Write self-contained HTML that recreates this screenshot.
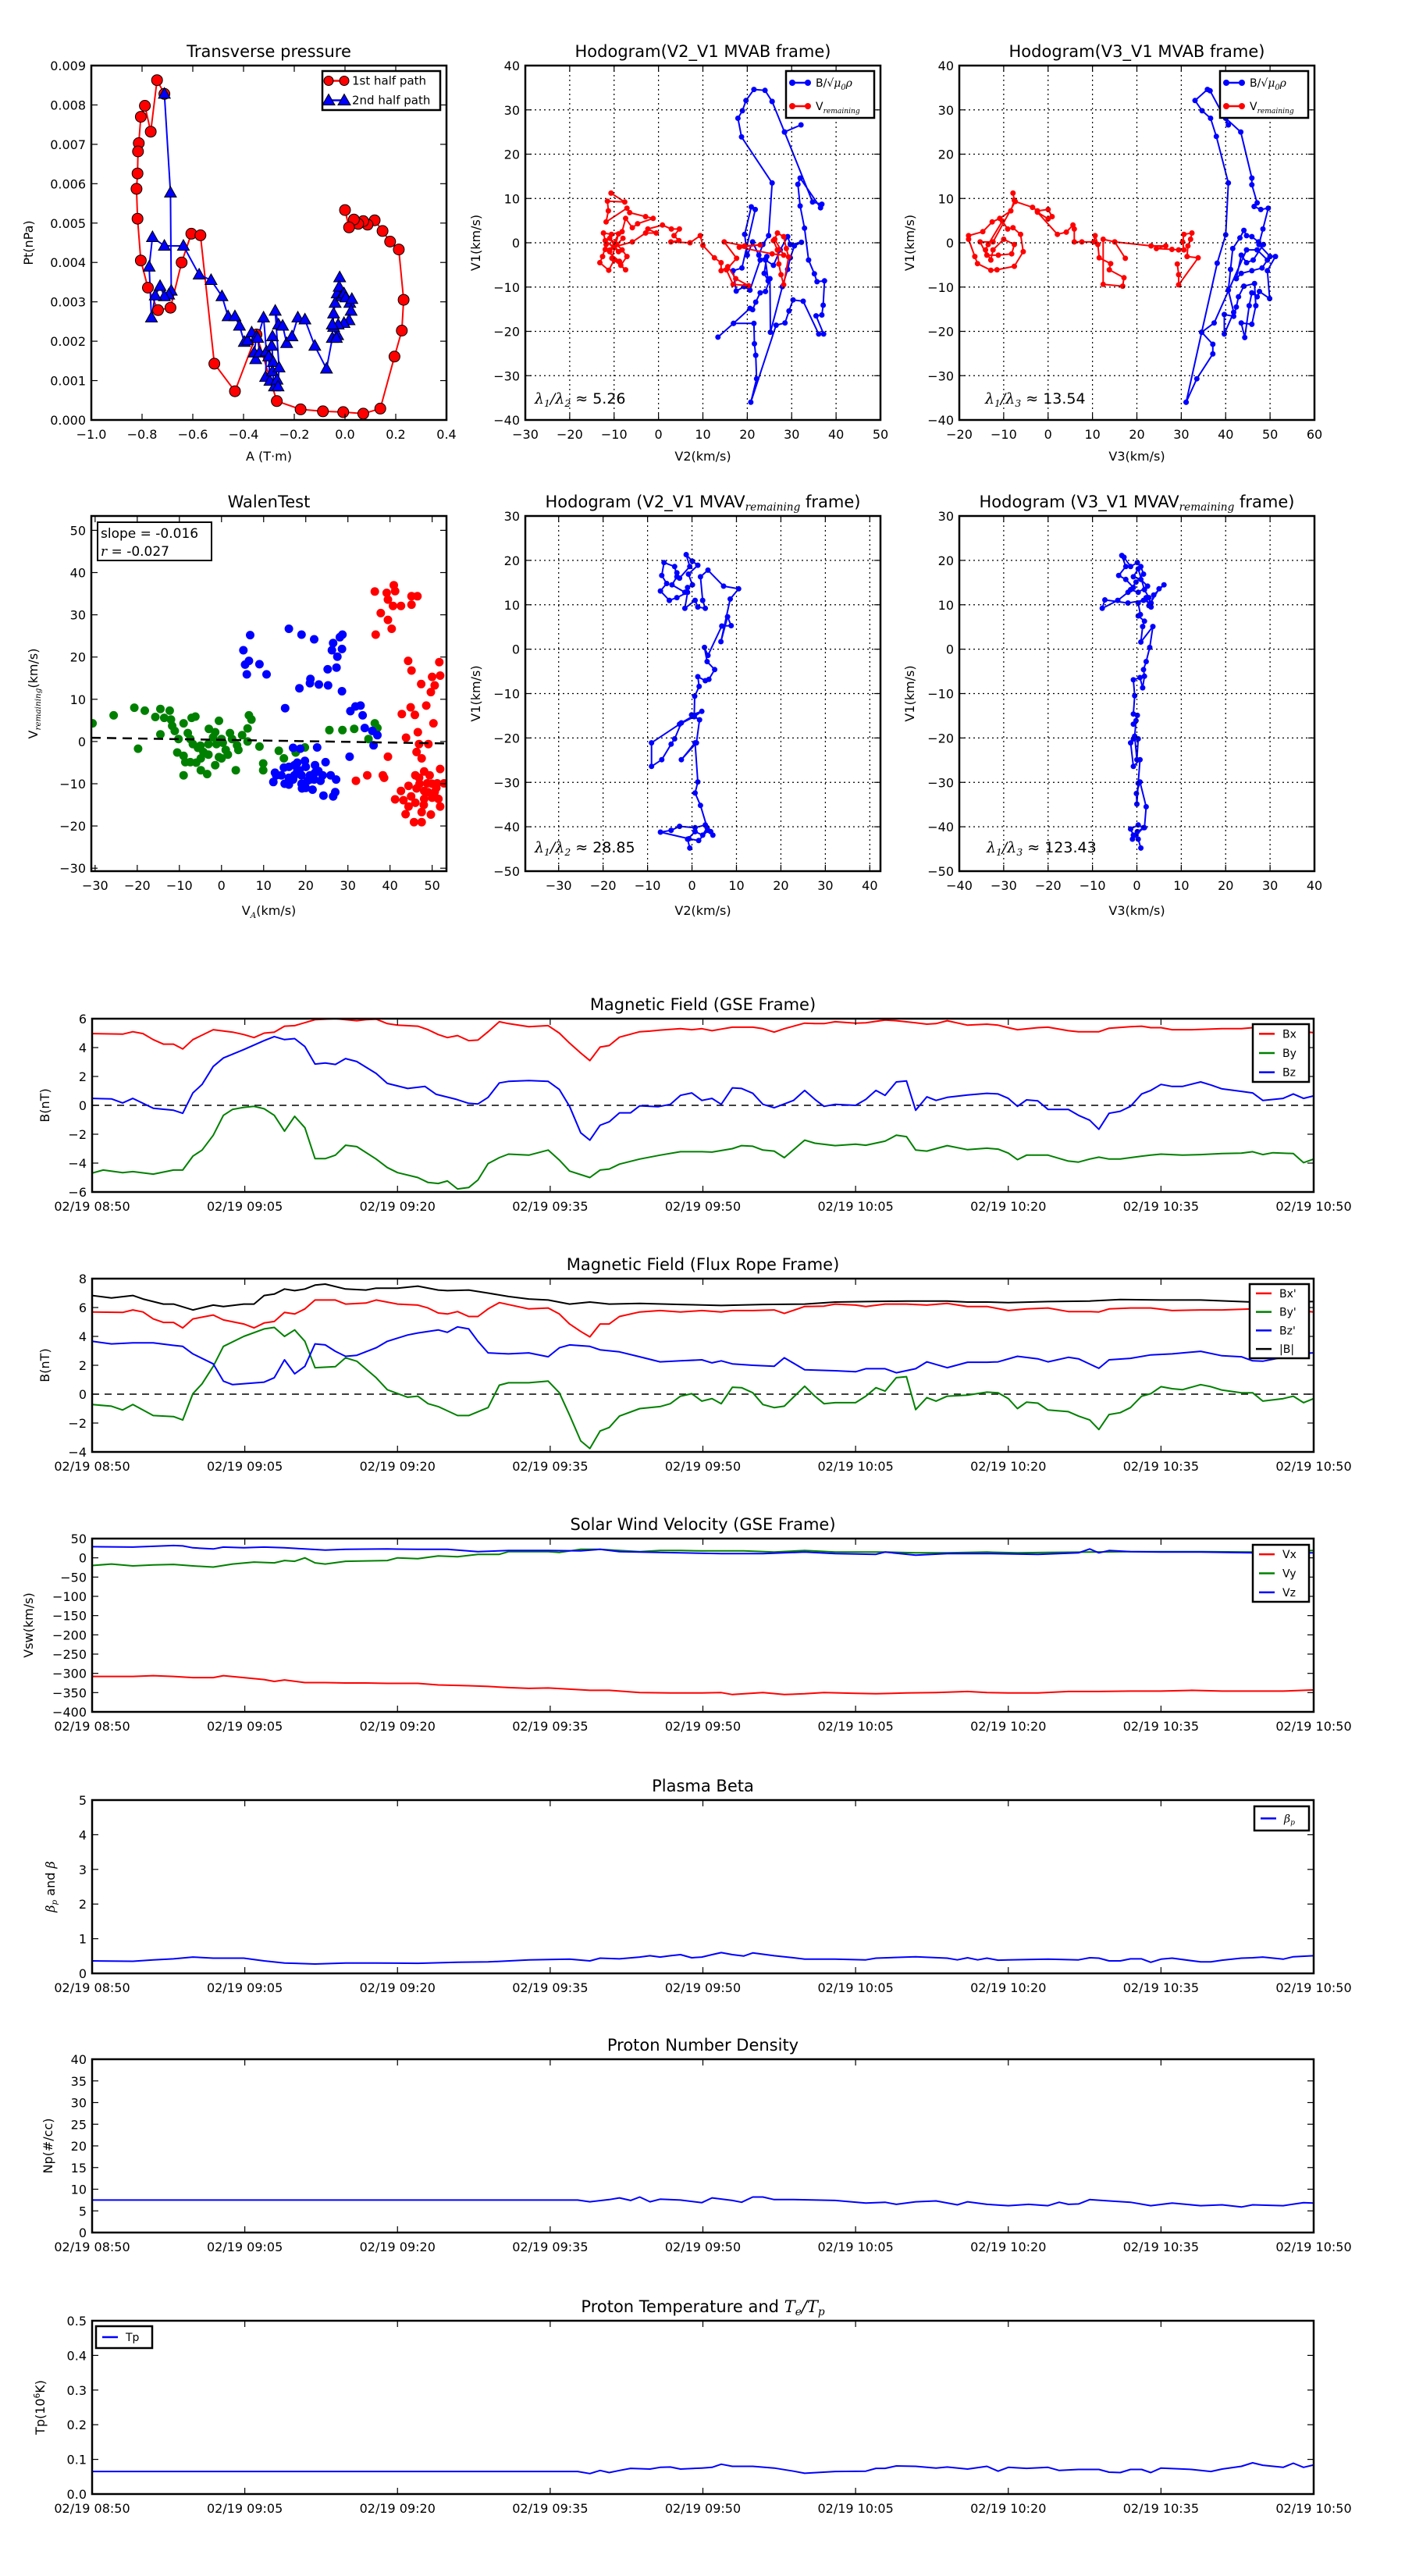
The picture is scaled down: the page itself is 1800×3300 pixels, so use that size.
<!DOCTYPE html>
<html><head><meta charset="utf-8">
<style>
html,body{margin:0;padding:0;background:#fff;}
svg{display:block;font-family:"DejaVu Sans","Liberation Sans",sans-serif;}
</style></head>
<body>
<svg id="fig" width="1800" height="3300" viewBox="0 0 1800 3300" xmlns="http://www.w3.org/2000/svg"></svg>
<script>
// ---------------- DATA ----------------
const ptRed=[[-0.712,8.28],[-0.741,8.63],[-0.766,7.32],[-0.789,7.98],[-0.805,7.70],[-0.813,7.03],[-0.816,6.82],[-0.818,6.26],[-0.822,5.87],[-0.818,5.11],[-0.805,4.05],[-0.777,3.36],[-0.737,2.79],[-0.688,2.85],[-0.644,4.00],[-0.606,4.73],[-0.570,4.69],[-0.515,1.43],[-0.434,0.73],[-0.349,2.17],[-0.269,0.48],[-0.175,0.27],[-0.087,0.22],[-0.007,0.20],[0.072,0.16],[0.139,0.29],[0.195,1.61],[0.224,2.27],[0.231,3.05],[0.212,4.33],[0.178,4.53],[0.148,4.80],[0.117,5.07],[0.089,4.96],[0.072,5.05],[0.052,4.98],[0.035,5.09],[0.016,4.89],[0.0,5.33]];
const ptBlue=[[-0.712,8.28],[-0.688,5.77],[-0.685,3.28],[-0.695,3.18],[-0.712,3.14],[-0.729,3.40],[-0.748,3.16],[-0.763,2.60],[-0.772,3.89],[-0.759,4.64],[-0.712,4.42],[-0.637,4.42],[-0.575,3.69],[-0.528,3.55],[-0.485,3.14],[-0.461,2.63],[-0.434,2.63],[-0.416,2.39],[-0.397,1.98],[-0.384,2.02],[-0.368,2.22],[-0.349,2.12],[-0.358,1.71],[-0.352,1.54],[-0.337,1.71],[-0.344,2.08],[-0.321,2.60],[-0.310,1.74],[-0.313,1.09],[-0.296,0.99],[-0.301,1.61],[-0.286,2.12],[-0.289,1.88],[-0.283,1.47],[-0.286,1.23],[-0.278,0.85],[-0.268,1.02],[-0.264,0.85],[-0.260,1.33],[-0.275,2.77],[-0.262,2.42],[-0.246,2.39],[-0.230,1.95],[-0.209,2.12],[-0.186,2.60],[-0.158,2.55],[-0.119,1.88],[-0.073,1.30],[-0.050,2.08],[-0.045,2.70],[-0.039,2.97],[-0.031,3.21],[-0.021,3.62],[-0.023,3.38],[-0.013,3.14],[-0.004,3.21],[0.003,3.11],[0.019,2.97],[0.027,3.07],[0.024,2.77],[0.016,2.53],[-0.004,2.46],[-0.027,2.42],[-0.029,2.15],[-0.034,2.08],[-0.045,2.36],[-0.050,2.42]];
const hB2=[[32.1,26.6],[28.4,25.0],[25.6,31.9],[24.0,34.4],[21.5,34.6],[19.7,32.1],[18.9,29.8],[17.9,28.1],[18.7,23.9],[25.6,13.5],[24.8,1.6],[23.5,-0.4],[22.6,-2.8],[21.2,0.2],[20.0,-2.8],[19.4,1.9],[20.9,8.1],[21.8,7.5],[18.8,-5.7],[16.8,-6.3],[17.5,-10.9],[19.3,-9.9],[20.6,-10.7],[22.9,-3.9],[24.4,-3.1],[23.8,-6.9],[24.7,-8.6],[24.1,-3.9],[25.9,-5.1],[27.4,-1.6],[29.1,1.4],[29.7,-0.4],[32.2,0.1],[30.6,-0.7],[29.7,-3.4],[29.1,-6.0],[27.9,-9.9],[25.2,-20.2],[25.1,-8.1],[24.1,-11.0],[22.9,-11.3],[21.9,-13.4],[21.2,-15.1],[20.6,-14.8],[16.9,-18.2],[13.4,-21.3],[16.9,-18.2],[21.5,-18.2],[21.6,-22.8],[21.9,-25.4],[22.1,-30.7],[20.8,-36.0],[26.5,-18.6],[28.5,-18.1],[29.4,-15.4],[30.3,-12.9],[32.6,-13.2],[36.1,-20.6],[37.2,-20.6],[35.5,-16.5],[36.8,-16.3],[37.1,-14.1],[37.4,-8.6],[35.7,-8.8],[35.1,-7.0],[33.8,-3.9],[32.9,3.3],[31.9,8.3],[31.4,13.2],[31.9,14.6],[36.5,7.9],[36.8,8.7],[34.7,9.2],[28.4,25.0],[25.6,31.9]];
const hV2=[[-10.7,11.2],[-7.6,9.2],[-11.5,9.4],[-11.3,7.2],[-11.8,4.7],[-7.1,7.8],[-6.5,6.8],[-2.9,5.9],[-1.2,5.5],[-4.7,4.3],[-5.9,3.4],[-7.4,5.5],[-8.2,2.5],[-10.6,1.9],[-12.4,2.2],[-11.8,-0.4],[-12.6,-3.1],[-13.2,-4.5],[-11.2,-6.2],[-10.0,-3.9],[-7.4,-6.1],[-8.5,-5.1],[-7.1,-3.1],[-8.2,-1.6],[-9.4,-0.4],[-11,1],[-9,-2],[-12,0.5],[-10,-1],[-8,1],[-11,-2],[-9,2],[-10.5,-3.5],[-8.8,-4.2],[-12,-1.5],[-5.9,0.2],[-2.9,2.2],[-0.5,2.2],[-2.4,3.1],[0.9,4.0],[2.9,3.1],[4.7,3.1],[3.5,1.6],[4.6,0.5],[2.8,0.2],[7.1,0],[9.4,1.6],[10.0,-0.6],[12.6,-3.4],[14.1,-4.5],[14.1,-6.3],[15.6,-5.4],[17.4,-8.1],[20.3,-9.7],[16.8,-9.4],[15.3,-6.1],[17.6,-3.5],[14.8,0.2],[19.4,-0.7],[22.9,-0.5],[18.2,-1.0],[25.6,-2.5],[28.2,-2.8],[26.2,0.8],[26.8,2.2],[28.2,1.4],[28.8,-1.3],[29.3,-3.2],[28.2,-9.5],[27.6,-7.2],[27.1,-4.8],[26.8,-1.6],[25.9,0.5]];
const hB3=[[31.1,-36.0],[33.5,-30.7],[37.1,-25.1],[37.1,-22.9],[34.6,-20.2],[38.1,-4.6],[40.0,1.8],[40.6,13.5],[37.9,24.0],[36.6,28.1],[34.7,29.8],[33.1,32.1],[35.9,34.6],[36.5,34.3],[40.6,26.6],[40.0,28.1],[43.4,25.0],[45.9,14.6],[45.9,13.1],[47.1,9.0],[46.4,8.2],[47.9,7.5],[49.6,7.8],[48.4,3.1],[47.5,-0.4],[50.0,-3.1],[51.2,-3.1],[49.4,-6.3],[49.9,-12.6],[47.6,-11.0],[47.1,-12.2],[45.9,-11.3],[45.3,-14.2],[44.3,-21.4],[43.5,-18.1],[45.9,-18.4],[46.8,-14.2],[46.5,-9.2],[44.1,-9.8],[42.9,-12.2],[42.4,-14.5],[41.8,-16.6],[39.7,-16.2],[39.7,-20.6],[41.8,-15.7],[40.6,-10.7],[41.1,-6.0],[41.6,-1.3],[43.2,1.1],[44.1,2.8],[44.7,1.6],[45.9,1.4],[47.4,0.2],[48.5,-0.4],[46.2,-3.9],[44.7,-4.5],[43.5,-2.8],[42.4,-8.1],[43.5,-6.9],[45.9,-6.3],[48.2,-5.7],[49.4,-3.9],[47.1,-1.6],[44.7,-1.6],[37.4,-18.1],[34.6,-20.2],[31.1,-36.0]];
const hV3=[[-7.9,11.2],[-7.6,9.6],[-8.4,7.2],[-10.9,5.5],[-12.6,4.7],[-14.7,2.5],[-17.9,1.6],[-17.9,0.8],[-16.5,-3.1],[-15.9,-4.7],[-12.9,-6.2],[-11.5,-6.1],[-7.6,-5.3],[-5.6,-2.0],[-6.2,1.9],[-7.9,3.4],[-9.1,3.1],[-10.3,4.9],[-13.5,-0.4],[-14.1,-1.6],[-12.9,-3.9],[-12.4,-1.6],[-10.0,0.8],[-7.6,-0.4],[-8.2,-2.5],[-11.2,-2.8],[-13.8,-2.8],[-15.3,0.2],[-12.4,0.2],[-7.4,9.3],[-3.5,8.0],[-2.4,7.2],[0,7.5],[0.9,5.9],[0,5.4],[-2.4,6.9],[2.1,1.9],[4.1,2.4],[5.6,4.0],[5.9,3.1],[5.9,0.2],[7.6,0.2],[10.3,0.2],[10.6,1.6],[11.2,-0.4],[11.5,-3.4],[14.1,-4.7],[13.8,-6.1],[17.1,-7.9],[16.8,-9.8],[12.4,-9.4],[12.4,0.8],[15.0,0.2],[17.4,-3.5],[15.0,0.2],[23.2,-0.7],[26.5,-0.7],[24.4,-1.3],[27.9,-1.5],[29.4,-1.6],[30.6,-1.6],[30.3,0.2],[30.6,1.9],[32.4,2.2],[32.1,0.8],[31.5,-0.7],[31.3,-3.1],[33.8,-3.4],[29.4,-9.5],[29.4,-7.2],[29.1,-4.8]];
const walenGreen=[[-30.6,4.3],[-25.6,6.2],[-20.7,8.0],[-18.2,7.3],[-15.7,5.8],[-14.5,7.7],[-12.3,7.3],[-12.0,5.2],[-14.5,1.7],[-19.8,-1.7],[-10.5,-2.6],[-9.0,-3.4],[-8.6,-4.9],[-9.0,-8.0],[-7.4,-4.9],[-4.9,-6.8],[-3.4,-7.7],[-4.9,-4.0],[-6.8,-0.6],[-7.1,5.6],[-6.2,5.9],[-9.0,4.3],[-11.1,2.5],[-11.7,3.7],[-0.6,4.9],[-1.5,2.2],[0,0.6],[2.5,0.6],[4.9,1.5],[6.5,6.2],[7.1,5.2],[6.2,3.1],[3.7,-0.9],[1.5,-3.1],[-0.6,-3.7],[-1.5,-5.6],[-3.1,-3.1],[-5.6,-1.5],[3.4,-6.8],[9.0,-1.2],[9.9,-5.2],[9.9,-6.8],[13.6,-2.2],[14.8,-4.0],[19.8,-1.4],[17.6,-2.6],[25.6,2.7],[28.7,2.7],[31.5,3.0],[36.4,4.3],[37.0,3.2],[34.9,0.6],[-3.1,-0.6],[-1.2,-0.6],[0.3,-0.3],[-7.4,0.6],[-4.3,-2.5],[-10.2,0.6],[-13.6,5.6],[6.2,0],[-5,-1],[-2,1],[1,-2],[-8,2],[-3,3],[2,2],[-6,-5],[0,-4],[4,-2]];
const walenBlue=[[6.8,25.2],[5.2,21.6],[6.5,19.1],[5.6,18.2],[6.0,15.9],[9.0,18.3],[10.7,15.9],[16.0,26.7],[19.0,25.3],[22.0,24.2],[18.5,12.6],[21.1,14.8],[21.0,13.8],[23.1,13.5],[25.3,13.3],[25.2,17.1],[27.3,17.5],[26.5,23.3],[26.2,21.6],[28.7,25.3],[28.1,24.7],[28.6,21.9],[27.5,20.1],[28.6,11.9],[15.1,7.9],[30.6,7.2],[31.8,8.3],[33.0,8.5],[33.5,6.2],[34.0,3.2],[35.8,2.5],[37.0,1.5],[36.1,-0.9],[30.4,-3.6],[17.0,-1.5],[18.7,-1.7],[22.7,-1.4],[12.7,-7.4],[14.8,-6.2],[17.3,-5.6],[19.8,-4.6],[22.2,-5.6],[24.7,-4.9],[25.9,-8.0],[27.2,-9.0],[12.3,-9.6],[16.0,-10.2],[19.1,-11.1],[21.6,-11.4],[24.2,-12.8],[26.5,-13.0],[27.0,-12.0],[23.5,-9.3],[21.0,-8.0],[17.3,-8.0],[14.2,-8.0],[18.5,-6.8],[20.4,-9.3],[16.0,-8.6],[22.2,-7.4],[18,-7],[20,-6],[21,-9],[19,-10],[17,-9],[22,-9],[23,-7],[16,-6],[15,-10],[19,-8],[20,-11],[24,-8],[13,-8],[18,-5]];
const walenRed=[[36.4,35.5],[39.2,35.2],[40.9,37.0],[41.2,35.6],[39.5,33.6],[40.7,32.1],[42.6,32.1],[45.1,34.4],[46.5,34.4],[45.1,32.4],[37.8,30.4],[39.5,28.8],[40.4,26.7],[36.6,25.3],[44.3,19.1],[45.1,16.8],[51.7,18.8],[50.0,15.3],[51.9,15.6],[47.4,13.6],[49.7,11.7],[50.6,13.3],[48.6,8.5],[44.9,8.1],[42.8,6.5],[45.9,6.3],[50.3,4.3],[46.6,2.2],[43.8,0.9],[46.9,-0.6],[49.1,-0.6],[46.3,-2.5],[47.5,-4.0],[39.5,-3.6],[31.9,-9.3],[34.6,-8.0],[38.3,-8.0],[38.6,-8.6],[51.9,-6.5],[48.1,-7.1],[49.4,-8.0],[46.9,-8.6],[51.2,-9.9],[52.8,-9.9],[44.4,-10.5],[42.6,-11.7],[48.1,-11.7],[50.6,-12.0],[41.2,-13.7],[43.2,-13.9],[46.0,-14.5],[48.1,-13.6],[50.0,-13.3],[51.9,-15.4],[44.4,-15.4],[47.5,-16.7],[49.7,-17.3],[43.7,-17.2],[45.7,-19.1],[47.5,-19.1],[48.8,-9.9],[46.3,-11.1],[51.5,-13.6],[47,-10],[49,-12],[45,-13],[50,-10],[48,-15],[46,-8],[51,-11]];
const walenFit=[-0.016,0.4];
const hMV2=[[-0.5,-44.8],[-1.0,-42.8],[0.7,-41.1],[2.4,-41.9],[3.4,-40.2],[4.7,-41.9],[4.2,-41.1],[3.0,-39.6],[0.7,-40.2],[-2.8,-39.9],[-4.7,-40.8],[-7.1,-41.2],[-0.7,-42.7],[1.5,-43.1],[3.6,-40.8],[1.9,-35.2],[0.7,-32.4],[1.3,-29.9],[0.7,-21.1],[-2.4,-24.9],[1.0,-21.1],[1.7,-15.9],[-0.1,-14.8],[2.2,-14.0],[0.5,-15.2],[-2.8,-16.9],[-9.1,-21.1],[-9.1,-26.4],[-6.8,-24.9],[-4.7,-21.4],[-3.9,-20.2],[-2.4,-16.6],[0.5,-14.9],[0.6,-10.6],[1.6,-8.4],[1.3,-6.2],[3.0,-7.1],[3.8,-6.8],[5.1,-4.6],[3.4,-2.8],[2.8,0.4],[3.6,-1.4],[6.7,5.2],[8.8,5.3],[8.0,7.3],[6.5,1.7],[8.6,11.3],[10.5,13.6],[7.1,14.2],[3.6,17.8],[1.9,16.3],[2.4,11.0],[3.0,9.2],[1.3,9.5],[0.7,11.0],[-1.6,9.2],[-1.0,12.8],[-3.4,11.6],[-5.1,11.0],[-7.1,13.1],[-5.7,14.8],[-6.8,16.6],[-6.3,19.5],[-3.9,18.6],[-3.4,16.3],[-4.5,14.5],[-1.6,12.8],[-1.0,13.9],[0.1,14.5],[-0.8,16.9],[1.3,18.9],[0.1,19.8],[-1.3,21.3],[-0.5,18.6],[-2.8,16.0],[-3.4,17.2]];
const hMV3=[[0.9,-44.8],[0.3,-42.8],[-0.8,-41.9],[-1.4,-40.5],[0.3,-39.6],[1.5,-40.2],[-0.2,-41.9],[-1.0,-42.8],[0.1,-41.1],[1.7,-40.2],[2.1,-35.5],[0.7,-29.9],[-0.1,-32.5],[0,-34.9],[0.3,-30.2],[0.7,-24.9],[-0.8,-26.4],[-1.4,-21.1],[-0.8,-20.2],[0.3,-20.2],[0,-24.9],[-0.5,-19.6],[-0.2,-16.1],[-0.8,-16.9],[0.1,-14.9],[-0.8,-14.6],[-0.5,-10.5],[-0.8,-6.9],[0.7,-6.4],[1.3,-8.7],[1.7,-6.1],[1.5,-4.6],[2.1,-2.8],[2.9,0.4],[3.6,5.1],[0.9,1.6],[1.3,5.1],[1.7,6.3],[0.3,7.5],[0.8,7.8],[0.3,10.4],[2.1,11.6],[2.7,9.8],[5.0,13.6],[6.1,14.5],[3.8,12.2],[3.2,10.4],[1.5,11.0],[-2.0,10.4],[-7.2,11.1],[-7.8,9.2],[-4.3,11.0],[-2.0,12.8],[-0.8,13.9],[-2.5,15.7],[-4.1,16.6],[-2.5,18.6],[-3.4,21.1],[-2.9,20.7],[-1.4,18.6],[0.1,19.5],[0.9,18.6],[1.5,16.9],[-0.2,15.1],[-1.4,13.4],[0.3,12.8],[2.4,14.2],[0.9,15.7],[-0.8,16.3],[0.3,18.1],[1.7,13.4],[2.7,11.6],[3.2,9.5]];
const timeLabels=['02/19 08:50','02/19 09:05','02/19 09:20','02/19 09:35','02/19 09:50','02/19 10:05','02/19 10:20','02/19 10:35','02/19 10:50'];
const bxGse=[[0,4.97],[3,4.93],[4,5.1],[5,4.97],[6,4.55],[7,4.24],[8,4.24],[8.9,3.9],[9.9,4.55],[11.9,5.24],[13.8,5.07],[14.9,4.9],[15.9,4.69],[16.9,5.0],[17.9,5.07],[18.9,5.48],[19.9,5.52],[21.9,5.93],[23.9,6.0],[26,5.86],[26.9,5.93],[27.9,5.97],[29,5.66],[30,5.55],[32,5.48],[33,5.24],[34,4.9],[34.9,4.69],[35.9,4.83],[37,4.48],[37.9,4.52],[38.9,5.1],[40,5.79],[40.9,5.66],[42.9,5.45],[44.8,5.52],[45.9,5.0],[46.9,4.31],[48,3.62],[48.9,3.1],[49.9,4.03],[50.8,4.14],[51.8,4.72],[53.8,5.1],[54.8,5.14],[55.8,5.21],[57.8,5.31],[58.9,5.24],[59.9,5.31],[60.9,5.17],[61.8,5.28],[62.9,5.41],[64.9,5.41],[65.9,5.31],[67,5.07],[68,5.31],[70,5.69],[71,5.66],[71.9,5.66],[73,5.79],[75,5.69],[76,5.72],[77.9,5.9],[79,5.86],[80.9,5.72],[82,5.62],[82.9,5.66],[84,5.86],[86,5.55],[87.9,5.62],[89,5.55],[90,5.38],[90.9,5.24],[92.9,5.38],[93.9,5.41],[95.9,5.17],[96.9,5.1],[98,5.1],[98.9,5.1],[99.9,5.34],[102,5.45],[103.1,5.48],[104,5.38],[105,5.38],[106.1,5.24],[108,5.24],[111,5.31],[112.9,5.31],[114,5.38],[115,5.38],[120,5.03]];
const byGse=[[0,-4.69],[1.1,-4.48],[3,-4.66],[4,-4.59],[6,-4.76],[8,-4.48],[8.9,-4.48],[9.9,-3.52],[10.8,-3.1],[11.9,-2.07],[12.9,-0.69],[13.8,-0.28],[14.9,-0.14],[15.9,-0.07],[16.9,-0.24],[17.9,-0.69],[18.9,-1.79],[19.9,-0.76],[20.9,-1.55],[21.9,-3.69],[22.9,-3.69],[23.9,-3.45],[24.9,-2.76],[26,-2.86],[27.9,-3.72],[29,-4.31],[30,-4.66],[32,-5.0],[33,-5.34],[34,-5.41],[34.9,-5.24],[35.9,-5.79],[37,-5.69],[37.9,-5.17],[38.9,-4.03],[40,-3.62],[40.9,-3.38],[42.9,-3.45],[44.8,-3.1],[45.9,-3.79],[46.9,-4.55],[48.9,-5.0],[49.9,-4.48],[50.8,-4.41],[51.8,-4.07],[53.8,-3.72],[55.8,-3.45],[57.8,-3.21],[59.9,-3.21],[60.9,-3.24],[62.9,-3.0],[63.8,-2.79],[64.9,-2.83],[65.9,-3.1],[67,-3.17],[68,-3.62],[70,-2.41],[71,-2.62],[73,-2.79],[75,-2.69],[76,-2.76],[77.9,-2.48],[79,-2.07],[80,-2.17],[80.9,-3.1],[82,-3.17],[84,-2.79],[86,-3.07],[87.9,-2.97],[89,-3.03],[90,-3.31],[90.9,-3.76],[91.8,-3.45],[93.9,-3.45],[95.9,-3.86],[96.9,-3.93],[98,-3.72],[98.9,-3.59],[99.9,-3.72],[101,-3.72],[103.1,-3.52],[104,-3.45],[105,-3.38],[107.1,-3.45],[108.9,-3.41],[111,-3.34],[112.9,-3.31],[114,-3.21],[115,-3.41],[116,-3.28],[118,-3.34],[119,-3.97],[120,-3.72]];
const bzGse=[[0,0.48],[1.9,0.45],[3,0.17],[4,0.48],[6,-0.2],[8,-0.34],[8.9,-0.55],[9.9,0.86],[10.8,1.45],[11.9,2.69],[12.9,3.28],[14.9,3.86],[16.9,4.48],[17.9,4.76],[18.9,4.55],[19.9,4.62],[20.9,4.07],[21.9,2.86],[22.9,2.93],[23.9,2.83],[24.9,3.24],[26,3.03],[27.9,2.21],[29,1.52],[31,1.17],[32.7,1.31],[33.8,0.76],[35.8,0.41],[37,0.14],[37.9,0.1],[38.9,0.55],[40,1.55],[40.9,1.66],[42.9,1.72],[44.8,1.66],[45.9,1.1],[46.9,-0.07],[48,-1.9],[48.9,-2.41],[49.9,-1.38],[50.8,-1.14],[51.8,-0.52],[52.9,-0.52],[53.8,-0.03],[55.6,-0.1],[56.8,0.07],[57.8,0.69],[58.9,0.86],[59.9,0.34],[60.9,0.48],[61.8,0.07],[62.9,1.21],[63.8,1.17],[64.9,0.83],[65.9,0.07],[67,-0.17],[68,0.1],[68.9,0.34],[70,1.03],[71,0.41],[71.9,-0.07],[73,0.07],[75,0],[76,0.41],[77,1.03],[77.9,0.69],[79,1.62],[80,1.69],[80.9,-0.34],[82,0.59],[82.9,0.34],[84,0.55],[86,0.72],[87.9,0.83],[89,0.79],[90,0.48],[90.9,-0.07],[91.8,0.38],[92.9,0.31],[93.9,-0.28],[95.9,-0.28],[96.9,-0.69],[98,-1.03],[98.9,-1.66],[99.9,-0.55],[101,-0.41],[102,-0.07],[103.1,0.79],[104,1.03],[105,1.45],[106.1,1.31],[107.1,1.31],[108.9,1.62],[109.9,1.41],[111,1.14],[112.9,0.97],[114,0.86],[115,0.34],[117,0.48],[118,0.79],[119,0.48],[120,0.66]];
const bxFr=[[0,5.69],[3,5.66],[4,5.83],[5,5.69],[6,5.21],[7,4.97],[8,4.97],[8.9,4.59],[9.9,5.21],[11.9,5.48],[12.9,5.14],[14.9,4.86],[15.9,4.59],[16.9,4.93],[17.9,5.03],[18.9,5.66],[19.9,5.55],[20.9,5.9],[21.9,6.52],[23.9,6.52],[24.9,6.24],[26.9,6.31],[27.9,6.52],[30,6.24],[32,6.17],[33,5.97],[34,5.62],[34.9,5.55],[35.9,5.72],[37,5.38],[37.9,5.38],[38.9,5.9],[40,6.34],[42.9,5.9],[44.8,5.97],[45.9,5.55],[46.9,4.86],[48,4.34],[48.9,3.97],[49.9,4.86],[50.8,4.86],[51.8,5.38],[53.8,5.69],[55.8,5.79],[57.8,5.69],[59.9,5.79],[61.8,5.69],[62.9,5.79],[64.9,5.79],[67,5.83],[68,5.59],[70,6.07],[71.9,6.1],[73,6.24],[75,6.17],[76,6.07],[77.9,6.24],[80,6.24],[82,6.17],[84,6.28],[86,6.07],[87.9,6.07],[90,5.79],[91.8,5.9],[93.9,5.97],[95.9,5.72],[98,5.72],[98.9,5.69],[99.9,5.9],[102,5.97],[104,5.97],[106.1,5.79],[108.9,5.83],[111,5.83],[114,5.9],[117,5.9],[120,5.69]];
const byFr=[[0,-0.72],[1.9,-0.83],[3,-1.1],[4,-0.72],[6,-1.48],[8,-1.55],[8.9,-1.79],[9.9,0.03],[10.8,0.72],[11.9,1.93],[12.9,3.31],[14.9,4.0],[16.9,4.52],[17.9,4.62],[18.9,4.0],[19.9,4.45],[20.9,3.66],[21.9,1.83],[23.9,1.9],[24.9,2.52],[26,2.28],[27.9,1.14],[29,0.31],[31,-0.21],[32,-0.14],[33,-0.66],[34,-0.86],[35.9,-1.48],[37,-1.48],[38.9,-0.93],[40,0.62],[40.9,0.79],[42.9,0.79],[44.8,0.9],[45.9,0.1],[46.9,-1.45],[48,-3.24],[48.9,-3.76],[49.9,-2.55],[50.8,-2.31],[51.8,-1.52],[53.8,-1.0],[55.8,-0.86],[56.8,-0.66],[57.8,-0.14],[58.9,0.03],[59.9,-0.48],[60.9,-0.31],[61.8,-0.66],[62.9,0.48],[63.8,0.45],[64.9,0.1],[65.9,-0.72],[67,-0.93],[68,-0.83],[70,0.55],[71,-0.14],[71.9,-0.66],[73,-0.59],[75,-0.59],[76,-0.14],[77,0.45],[77.9,0.21],[79,1.14],[80,1.21],[80.9,-1.07],[82,-0.24],[82.9,-0.48],[84,-0.14],[86,-0.07],[87.9,0.14],[89,0.1],[90,-0.31],[90.9,-1.0],[91.8,-0.55],[92.9,-0.62],[93.9,-1.1],[95.9,-1.21],[96.9,-1.52],[98,-1.79],[98.9,-2.45],[99.9,-1.41],[101,-1.28],[102,-0.93],[103.1,-0.14],[104,0.03],[105,0.52],[106.1,0.38],[107.1,0.31],[108.9,0.66],[109.9,0.52],[111,0.28],[112.9,0.1],[114,0.1],[115,-0.48],[117,-0.31],[118,-0.14],[119,-0.59],[120,-0.31]];
const bzFr=[[0,3.66],[1.9,3.48],[4,3.55],[6,3.55],[8,3.38],[8.9,3.31],[9.9,2.79],[11.9,2.1],[12.9,0.9],[13.8,0.66],[16.9,0.83],[17.9,1.14],[18.9,2.38],[19.9,1.41],[20.9,1.93],[21.9,3.48],[22.9,3.41],[23.9,2.97],[24.9,2.62],[26,2.69],[27.9,3.21],[29,3.66],[31,4.1],[32,4.24],[34,4.45],[34.9,4.28],[35.9,4.66],[37,4.52],[37.9,3.66],[38.9,2.86],[40.9,2.79],[42.9,2.86],[44.8,2.59],[45.9,3.21],[46.9,3.41],[48.9,3.31],[49.9,3.07],[51.8,2.93],[53.8,2.59],[55.8,2.24],[57.8,2.31],[59.9,2.38],[60.9,2.17],[61.8,2.31],[62.9,2.1],[64.9,2.0],[67,1.93],[68,2.52],[70,1.69],[73,1.62],[75,1.55],[76,1.76],[77.9,1.76],[79,1.48],[80.9,1.76],[82,2.24],[84,1.83],[86,2.21],[87.9,2.21],[89,2.24],[90.9,2.62],[92.9,2.45],[93.9,2.24],[95.9,2.55],[96.9,2.45],[98.9,1.79],[99.9,2.38],[102,2.48],[104,2.72],[106.1,2.79],[108.9,2.97],[111,2.66],[112.9,2.59],[114,2.31],[115,2.28],[117,2.55],[118,2.79],[120,2.86]];
const bmagFr=[[0,6.83],[1.9,6.66],[4,6.83],[5,6.59],[7,6.24],[8,6.24],[9.9,5.83],[11.9,6.17],[12.9,6.07],[14.9,6.24],[15.9,6.24],[16.9,6.83],[17.9,6.93],[18.9,7.28],[19.9,7.17],[20.9,7.28],[21.9,7.55],[22.9,7.62],[24.9,7.28],[26.9,7.21],[27.9,7.34],[30,7.34],[32,7.48],[34,7.21],[34.9,7.17],[37,7.21],[38.9,7.0],[40.9,6.76],[42.9,6.59],[44.8,6.52],[46.9,6.24],[48.9,6.38],[50.8,6.24],[53.8,6.28],[57.8,6.21],[61.8,6.14],[65.9,6.21],[70,6.24],[73,6.38],[76,6.41],[80,6.45],[84,6.45],[86,6.38],[87.9,6.38],[90,6.34],[93.9,6.41],[98,6.45],[101,6.55],[105,6.52],[108.9,6.52],[114,6.38],[117,6.38],[120,6.41]];
const vxSw=[[0,-308],[4,-308],[6,-306],[8,-308],[9.9,-311],[11.9,-311],[12.9,-306],[14.9,-311],[16.9,-316],[17.9,-321],[18.9,-317],[20.9,-324],[22.9,-324],[24.9,-325],[26.9,-325],[29,-326],[32,-326],[34,-330],[37,-332],[38.9,-334],[40.9,-337],[42.9,-339],[44.8,-338],[46.9,-341],[48.9,-344],[50.8,-344],[53.8,-350],[56.8,-351],[59.9,-351],[61.8,-350],[62.9,-355],[65.9,-350],[68,-355],[70,-353],[71.9,-350],[75,-352],[77,-353],[80,-351],[82.9,-350],[86,-347],[87.9,-350],[90,-351],[92.9,-351],[95.9,-347],[98.9,-347],[102,-346],[105,-346],[108,-344],[111,-346],[114,-346],[117,-346],[120,-343]];
const vySw=[[0,-20],[1.9,-16],[4,-21],[6,-18.5],[8,-17],[9.9,-21],[11.9,-24],[13.8,-16],[15.9,-11],[17.9,-13],[18.9,-7],[19.9,-9],[20.9,0],[21.9,-13],[22.9,-16],[24.9,-9],[26.9,-8],[29,-7],[30,0],[32,-2],[34,5],[35.9,3],[37.9,9],[40,9],[40.9,16],[42.9,16],[44.8,16],[45.9,14],[48,22],[49.9,22],[51.8,19],[53.8,16],[55.8,19],[57.8,19],[59.9,18],[64,18],[67,15],[70,19],[73,15],[76,15],[77.9,15],[80.9,13],[84,13],[87.9,15],[90.9,13],[93.9,14],[98,15],[102,16],[105,16],[109,16],[114,15],[117,16],[120,19]];
const vzSw=[[0,29],[4,28],[8,32],[8.9,31],[9.9,26],[11.9,23],[12.9,28],[14.9,26],[16.9,28],[18.9,26],[20.9,23],[22.9,20],[24.9,22],[29,23],[32,22],[34.9,22],[37.9,16],[40.9,19],[44.8,19],[48,18],[49.9,22],[51.8,16],[53.8,15],[57.8,13],[61.8,11],[65.9,11],[70,15],[73,11],[77,9],[77.9,15],[80.9,7],[84,11],[87.9,11],[92.9,9],[96.9,13],[98,23],[98.9,13],[99.9,19],[102,16],[105,15],[108.9,15],[114,13],[117,13],[120,13]];
const betaP=[[0,0.36],[4,0.35],[6,0.39],[8,0.42],[9.9,0.47],[11.9,0.44],[14.9,0.44],[16.9,0.36],[18.9,0.30],[21.9,0.27],[24.9,0.30],[27.9,0.30],[32,0.29],[35.9,0.32],[38.9,0.33],[42.9,0.39],[46.9,0.41],[48.9,0.36],[49.9,0.44],[51.8,0.42],[53.8,0.47],[54.8,0.51],[55.8,0.47],[56.8,0.51],[57.8,0.54],[58.9,0.45],[59.9,0.47],[60.9,0.54],[61.8,0.60],[62.9,0.54],[64,0.50],[64.9,0.59],[67,0.51],[68.9,0.45],[70,0.41],[73,0.41],[76,0.39],[77,0.44],[80,0.47],[80.9,0.48],[84,0.44],[85,0.39],[86,0.45],[87,0.39],[87.9,0.44],[89,0.38],[90,0.39],[93.9,0.41],[96.9,0.39],[98,0.45],[98.9,0.44],[99.9,0.36],[101,0.36],[102,0.42],[103.1,0.42],[104,0.32],[105,0.41],[106.1,0.44],[108.9,0.33],[109.9,0.33],[111,0.38],[112.9,0.44],[114,0.45],[115,0.47],[117,0.41],[118,0.48],[120,0.51]];
const npDens=[[0,7.5],[47.7,7.5],[48.9,7.1],[50.8,7.6],[51.8,8.0],[52.9,7.4],[53.8,8.2],[54.8,7.1],[55.8,7.7],[57.8,7.5],[59.9,6.9],[60.9,8.0],[62.9,7.4],[63.8,7.0],[64.9,8.2],[65.9,8.2],[67,7.6],[68.9,7.6],[73,7.4],[76,6.8],[77.9,7.0],[79,6.5],[80.9,7.1],[82.9,7.3],[85,6.4],[86,7.1],[87.9,6.5],[90,6.2],[92,6.5],[93.9,6.2],[95,7.0],[95.9,6.5],[96.9,6.6],[98,7.6],[99.9,7.3],[102,7.0],[104,6.2],[106.1,6.8],[108.9,6.2],[111,6.4],[112.9,5.9],[114,6.4],[117,6.2],[119,6.9],[120,6.8]];
const tpTemp=[[0,0.065],[47.7,0.065],[48.9,0.059],[49.9,0.068],[50.8,0.062],[51.8,0.068],[52.9,0.074],[54.8,0.072],[55.8,0.077],[56.8,0.078],[57.8,0.072],[59.9,0.075],[60.9,0.077],[61.8,0.086],[62.9,0.080],[64.9,0.080],[67,0.075],[68.9,0.066],[70,0.060],[73,0.065],[76,0.066],[77,0.074],[77.9,0.074],[79,0.081],[80.9,0.080],[82.9,0.075],[84,0.078],[86,0.072],[87.9,0.080],[89,0.066],[90,0.077],[91.8,0.074],[93.9,0.077],[95,0.068],[96.9,0.071],[98.9,0.071],[99.9,0.063],[101,0.062],[102,0.071],[103.1,0.071],[104,0.062],[105,0.075],[108,0.071],[109.9,0.065],[111,0.072],[112.9,0.080],[114,0.090],[115,0.083],[117,0.077],[118,0.089],[119,0.077],[120,0.084]];

// ---------------- DRAWING ----------------
const NS='http://www.w3.org/2000/svg';
const svg=document.getElementById('fig');
const RED='#ff0000',GREEN='#008000',BLUE='#0000ff';
let clipId=0;
function mk(tag,parent){const e=document.createElementNS(NS,tag);parent.appendChild(e);return e;}
function set(e,o){for(const k in o)e.setAttribute(k,o[k]);return e;}
function fmt(v,d){const s=Math.abs(v).toFixed(d);return (v<-1e-12?'\u2212':'')+s;}

function makeAxes(name,x0,y0,x1,y1,xmin,xmax,ymin,ymax){
  const g=mk('g',svg);
  
  
  const id='clip'+(clipId++);
  const cp=mk('clipPath',g);cp.setAttribute('id',id);
  set(mk('rect',cp),{x:x0,y:y0,width:x1-x0,height:y1-y0});
  const plot=mk('g',g);plot.setAttribute('clip-path','url(#'+id+')');
  
  
  const sx=v=>x0+(v-xmin)/(xmax-xmin)*(x1-x0);
  const sy=v=>y1-(v-ymin)/(ymax-ymin)*(y1-y0);
  return {g,plot,x0,y0,x1,y1,sx,sy};
}
function frame(ax,xt,yt,xlab,ylab,grid){
  const {g,x0,y0,x1,y1,sx,sy}=ax;
  if(grid){
    xt.forEach(v=>{const X=sx(v);if(X<=x0+1||X>=x1-1)return;
      const l=mk('line',g);set(l,{x1:X,x2:X,y1:y0,y2:y1,stroke:'#000','stroke-width':1.2,'stroke-dasharray':'2,4'});
      });
    yt.forEach(v=>{const Y=sy(v);if(Y<=y0+1||Y>=y1-1)return;
      const l=mk('line',g);set(l,{x1:x0,x2:x1,y1:Y,y2:Y,stroke:'#000','stroke-width':1.2,'stroke-dasharray':'2,4'});
      });
  }
  const tk=mk('g',g);
  xt.forEach((v,i)=>{const X=sx(v);
    set(mk('line',tk),{x1:X,x2:X,y1:y1,y2:y1-8,stroke:'#000','stroke-width':1.2});
    set(mk('line',tk),{x1:X,x2:X,y1:y0,y2:y0+8,stroke:'#000','stroke-width':1.2});
    const t=mk('text',g);set(t,{x:X,y:y1+24,'text-anchor':'middle','font-size':16});
    
    t.textContent=xlab[i];});
  yt.forEach((v,i)=>{const Y=sy(v);
    set(mk('line',tk),{x1:x0,x2:x0+8,y1:Y,y2:Y,stroke:'#000','stroke-width':1.2});
    set(mk('line',tk),{x1:x1,x2:x1-8,y1:Y,y2:Y,stroke:'#000','stroke-width':1.2});
    const t=mk('text',g);set(t,{x:x0-7,y:Y+6,'text-anchor':'end','font-size':16});
    
    t.textContent=ylab[i];});
  const r=mk('rect',g);set(r,{x:x0,y:y0,width:x1-x0,height:y1-y0,fill:'none',stroke:'#000','stroke-width':2.5});
  
}
function title(ax,txt){
  const t=mk('text',ax.g);set(t,{x:(ax.x0+ax.x1)/2,y:ax.y0-11,'text-anchor':'middle','font-size':21});
  
  t.innerHTML=txt;return t;
}
function xlabel(ax,txt,y){
  const t=mk('text',ax.g);set(t,{x:(ax.x0+ax.x1)/2,y:y,'text-anchor':'middle','font-size':16});
  
  t.innerHTML=txt;
}
function ylabel(ax,txt,x){
  const cy=(ax.y0+ax.y1)/2;
  const t=mk('text',ax.g);set(t,{x:x,y:cy,'text-anchor':'middle','font-size':16,transform:'rotate(-90 '+x+' '+cy+')'});
  
  t.innerHTML=txt;
}
function range(a,b,s){const r=[];for(let v=a;v<=b+s*1e-6;v+=s)r.push(+v.toFixed(6));return r;}
function path(ax,pts,color,w,name){
  const d=pts.map((p,i)=>(i?'L':'M')+ax.sx(p[0]).toFixed(1)+' '+ax.sy(p[1]).toFixed(1)).join('');
  const p=mk('path',ax.plot);set(p,{d:d,fill:'none',stroke:color,'stroke-width':w,'stroke-linejoin':'round'});
  
  return p;
}
function dots(ax,pts,color,r,name,edge){
  const g=mk('g',ax.plot);
  
  pts.forEach(p=>{const c=mk('circle',g);set(c,{cx:ax.sx(p[0]).toFixed(1),cy:ax.sy(p[1]).toFixed(1),r:r,fill:color});
    if(edge)set(c,{stroke:'#000','stroke-width':1});
    });
}
function tris(ax,pts,color,s,name){
  const g=mk('g',ax.plot);
  
  pts.forEach(p=>{const X=ax.sx(p[0]),Y=ax.sy(p[1]);const c=mk('polygon',g);
    set(c,{points:`${X},${Y-s} ${X-s*0.95},${Y+s*0.7} ${X+s*0.95},${Y+s*0.7}`,fill:color,stroke:'#000','stroke-width':1});
    });
}
function hline(ax,v,name){
  const l=mk('line',ax.plot);set(l,{x1:ax.x0,x2:ax.x1,y1:ax.sy(v),y2:ax.sy(v),stroke:'#000','stroke-width':1.5,'stroke-dasharray':'9,7'});
  
}
function legend(ax,x,y,w,h,items,fs,lineLen){
  const g=mk('g',ax.g);
  set(mk('rect',g),{x:x,y:y,width:w,height:h,fill:'#fff',stroke:'#000','stroke-width':2.5});
  const step=h/items.length;
  items.forEach((it,i)=>{
    const cy=y+step*(i+0.5);
    const e=mk('g',g);
    set(mk('line',e),{x1:x+8,x2:x+8+lineLen,y1:cy,y2:cy,stroke:it.c,'stroke-width':2.5});
    if(it.m==='o'){[x+8,x+8+lineLen].forEach(px=>set(mk('circle',e),{cx:px,cy:cy,r:it.r||4,fill:it.c,stroke:it.edge?'#000':'none'}));}
    if(it.m==='^'){[x+8,x+8+lineLen].forEach(px=>set(mk('polygon',e),{points:`${px},${cy-8} ${px-8},${cy+6} ${px+8},${cy+6}`,fill:it.c,stroke:'#000'}));}
    const t=mk('text',e);set(t,{x:x+18+lineLen,y:cy+5,'font-size':fs});t.innerHTML=it.t;
  });
}
function note(ax,x,y,html,fs){
  const t=mk('text',ax.g);set(t,{x:x,y:y,'font-size':fs});
  
  t.innerHTML=html;
}
const Bsq='B/<tspan font-style="italic" font-family="DejaVu Serif,serif">√μ<tspan font-size="70%" dy="4">0</tspan><tspan dy="-4">ρ</tspan></tspan>';
const Vrem='V<tspan font-size="65%" dy="4" font-style="italic" font-family="DejaVu Serif,serif">remaining</tspan>';
function lam(a,b,val){return '<tspan font-style="italic" font-family="DejaVu Serif,serif">λ<tspan font-size="65%" dy="4">'+a+'</tspan><tspan dy="-4">/λ</tspan><tspan font-size="65%" dy="4">'+b+'</tspan></tspan><tspan dy="-4"> ≈ '+val+'</tspan>';}

// ---- Row 1 ----
const RX=[[117,572],[673,1128],[1229,1684]];
(function(){
  const ax=makeAxes('transverse-pressure-chart',RX[0][0],84,RX[0][1],538,-1.0,0.4,0,9);
  const xt=range(-1,0.4,0.2),yt=range(0,9,1);
  frame(ax,xt,yt,xt.map(v=>fmt(v,1)),yt.map(v=>(v/1000).toFixed(3)),false);
  path(ax,ptRed,RED,2,'first-half-path-line');
  path(ax,ptBlue,BLUE,2,'second-half-path-line');
  dots(ax,ptRed,RED,7,'first-half-path',true);
  tris(ax,ptBlue,BLUE,8,'second-half-path');
  title(ax,'Transverse pressure');xlabel(ax,'A (T·m)',590);ylabel(ax,'Pt(nPa)',42);
  legend(ax,413,91,151,50,[{c:RED,m:'o',r:6,edge:1,t:'1st half path'},{c:BLUE,m:'^',t:'2nd half path'}],15,20);
})();
(function(){
  const ax=makeAxes('hodogram-v2-v1-mvab',RX[1][0],84,RX[1][1],538,-30,50,-40,40);
  const xt=range(-30,50,10),yt=range(-40,40,10);
  frame(ax,xt,yt,xt.map(v=>fmt(v,0)),yt.map(v=>fmt(v,0)),true);
  path(ax,hB2,BLUE,2,'b-alfven-hodogram-line');dots(ax,hB2,BLUE,3.5,'b-alfven-hodogram');
  path(ax,hV2,RED,2,'v-remaining-hodogram-line');dots(ax,hV2,RED,3.5,'v-remaining-hodogram');
  title(ax,'Hodogram(V2_V1 MVAB frame)');xlabel(ax,'V2(km/s)',590);ylabel(ax,'V1(km/s)',615);
  legend(ax,1007,91,113,60,[{c:BLUE,m:'o',t:Bsq},{c:RED,m:'o',t:Vrem}],14,20);
  note(ax,685,517,lam(1,2,'5.26'),19);
})();
(function(){
  const ax=makeAxes('hodogram-v3-v1-mvab',RX[2][0],84,RX[2][1],538,-20,60,-40,40);
  const xt=range(-20,60,10),yt=range(-40,40,10);
  frame(ax,xt,yt,xt.map(v=>fmt(v,0)),yt.map(v=>fmt(v,0)),true);
  path(ax,hB3,BLUE,2,'b-alfven-hodogram-line');dots(ax,hB3,BLUE,3.5,'b-alfven-hodogram');
  path(ax,hV3,RED,2,'v-remaining-hodogram-line');dots(ax,hV3,RED,3.5,'v-remaining-hodogram');
  title(ax,'Hodogram(V3_V1 MVAB frame)');xlabel(ax,'V3(km/s)',590);ylabel(ax,'V1(km/s)',1171);
  legend(ax,1563,91,113,60,[{c:BLUE,m:'o',t:Bsq},{c:RED,m:'o',t:Vrem}],14,20);
  note(ax,1262,517,lam(1,3,'13.54'),19);
})();
// ---- Row 2 ----
(function(){
  const ax=makeAxes('walen-test-chart',RX[0][0],661,RX[0][1],1116,-30.9,53.4,-30.7,53.4);
  const xt=range(-30,50,10),yt=range(-30,50,10);
  frame(ax,xt,yt,xt.map(v=>fmt(v,0)),yt.map(v=>fmt(v,0)),false);
  dots(ax,walenGreen,GREEN,5.5,'walen-green-points');
  dots(ax,walenBlue,BLUE,5.5,'walen-blue-points');
  dots(ax,walenRed,RED,5.5,'walen-red-points');
  const fit=[[-30.9,walenFit[0]*-30.9+walenFit[1]],[53.4,walenFit[0]*53.4+walenFit[1]]];
  const fl=path(ax,fit,'#000',2.5,'walen-fit-line');fl.setAttribute('stroke-dasharray','12,8');
  title(ax,'WalenTest');xlabel(ax,'V<tspan font-size="65%" dy="4" font-style="italic" font-family="DejaVu Serif,serif">A</tspan><tspan dy="-4">(km/s)</tspan>',1172);
  ylabel(ax,Vrem+'<tspan dy="-4">(km/s)</tspan>',48);
  const g=mk('g',ax.g);
  set(mk('rect',g),{x:125,y:669,width:146,height:49,fill:'#fff',stroke:'#000','stroke-width':2});
  const t1=mk('text',g);set(t1,{x:129,y:689,'font-size':17});t1.textContent='slope = -0.016';
  const t2=mk('text',g);set(t2,{x:129,y:712,'font-size':17});t2.innerHTML='<tspan font-style="italic" font-family="DejaVu Serif,serif">r</tspan> = -0.027';
})();
(function(){
  const ax=makeAxes('hodogram-v2-v1-mvav',RX[1][0],661,RX[1][1],1116,-37.5,42.4,-50,30);
  const xt=range(-30,40,10),yt=range(-50,30,10);
  frame(ax,xt,yt,xt.map(v=>fmt(v,0)),yt.map(v=>fmt(v,0)),true);
  path(ax,hMV2,BLUE,2,'hodogram-line');dots(ax,hMV2,BLUE,3.5,'hodogram-points');
  title(ax,'Hodogram (V2_V1 MVAV<tspan font-size="65%" dy="4" font-style="italic" font-family="DejaVu Serif,serif">remaining</tspan><tspan dy="-4"> frame)</tspan>');
  xlabel(ax,'V2(km/s)',1172);ylabel(ax,'V1(km/s)',615);
  note(ax,685,1092,lam(1,2,'28.85'),19);
})();
(function(){
  const ax=makeAxes('hodogram-v3-v1-mvav',RX[2][0],661,RX[2][1],1116,-40,40,-50,30);
  const xt=range(-40,40,10),yt=range(-50,30,10);
  frame(ax,xt,yt,xt.map(v=>fmt(v,0)),yt.map(v=>fmt(v,0)),true);
  path(ax,hMV3,BLUE,2,'hodogram-line');dots(ax,hMV3,BLUE,3.5,'hodogram-points');
  title(ax,'Hodogram (V3_V1 MVAV<tspan font-size="65%" dy="4" font-style="italic" font-family="DejaVu Serif,serif">remaining</tspan><tspan dy="-4"> frame)</tspan>');
  xlabel(ax,'V3(km/s)',1172);ylabel(ax,'V1(km/s)',1171);
  note(ax,1264,1092,lam(1,3,'123.43'),19);
})();
// ---- Time series panels ----
const TX0=118,TX1=1683,TH=222;
const tTicks=range(0,120,15);
function tpanel(name,top,ymin,ymax,ystep,dec,ttl,ylab,ylx){
  const ax=makeAxes(name,TX0,top,TX1,top+TH,0,120,ymin,ymax);
  const yt=range(ymin,ymax,ystep);
  frame(ax,tTicks,yt,timeLabels,yt.map(v=>fmt(v,dec)),false);
  title(ax,ttl);ylabel(ax,ylab,ylx);
  return ax;
}
(function(){
  const ax=tpanel('magnetic-field-gse-chart',1305,-6,6,2,0,'Magnetic Field (GSE Frame)','B(nT)',63);
  hline(ax,0,'zero-line');
  path(ax,bxGse,RED,2,'bx-line');path(ax,byGse,GREEN,2,'by-line');path(ax,bzGse,BLUE,2,'bz-line');
  legend(ax,1605,1312,72,74,[{c:RED,t:'Bx'},{c:GREEN,t:'By'},{c:BLUE,t:'Bz'}],14,20);
})();
(function(){
  const ax=tpanel('magnetic-field-flux-rope-chart',1638,-4,8,2,0,'Magnetic Field (Flux Rope Frame)','B(nT)',63);
  hline(ax,0,'zero-line');
  path(ax,bmagFr,'#000',2,'bmag-line');path(ax,bxFr,RED,2,'bx-prime-line');path(ax,byFr,GREEN,2,'by-prime-line');path(ax,bzFr,BLUE,2,'bz-prime-line');
  legend(ax,1601,1645,76,95,[{c:RED,t:"Bx'"},{c:GREEN,t:"By'"},{c:BLUE,t:"Bz'"},{c:'#000',t:'|B|'}],14,20);
})();
(function(){
  const ax=tpanel('solar-wind-velocity-chart',1971,-400,50,50,0,'Solar Wind Velocity (GSE Frame)','Vsw(km/s)',42);
  path(ax,vxSw,RED,2,'vx-line');path(ax,vySw,GREEN,2,'vy-line');path(ax,vzSw,BLUE,2,'vz-line');
  legend(ax,1605,1979,72,73,[{c:RED,t:'Vx'},{c:GREEN,t:'Vy'},{c:BLUE,t:'Vz'}],14,20);
})();
(function(){
  const ax=tpanel('plasma-beta-chart',2306,0,5,1,0,'Plasma Beta','<tspan font-style="italic" font-family="DejaVu Serif,serif">β<tspan font-size="65%" dy="3">p</tspan></tspan><tspan dy="-3"> and </tspan><tspan font-style="italic" font-family="DejaVu Serif,serif">β</tspan>',70);
  path(ax,betaP,BLUE,2,'beta-p-line');
  legend(ax,1607,2314,70,31,[{c:BLUE,t:'<tspan font-style="italic" font-family="DejaVu Serif,serif">β<tspan font-size="65%" dy="3">p</tspan></tspan>'}],14,20);
})();
(function(){
  const ax=tpanel('proton-density-chart',2638,0,40,5,0,'Proton Number Density','Np(#/cc)',67);
  path(ax,npDens,BLUE,2,'np-line');
})();
(function(){
  const ax=tpanel('proton-temperature-chart',2973,0,0.5,0.1,1,'Proton Temperature and <tspan font-style="italic" font-family="DejaVu Serif,serif">T<tspan font-size="65%" dy="4">e</tspan><tspan dy="-4">/T</tspan><tspan font-size="65%" dy="4">p</tspan></tspan>','Tp(10<tspan font-size="65%" dy="-6">6</tspan><tspan dy="6">K)</tspan>',57);
  path(ax,tpTemp,BLUE,2,'tp-line');
  legend(ax,123,2980,72,28,[{c:BLUE,t:'Tp'}],14,20);
})();
</script>
</body></html>
